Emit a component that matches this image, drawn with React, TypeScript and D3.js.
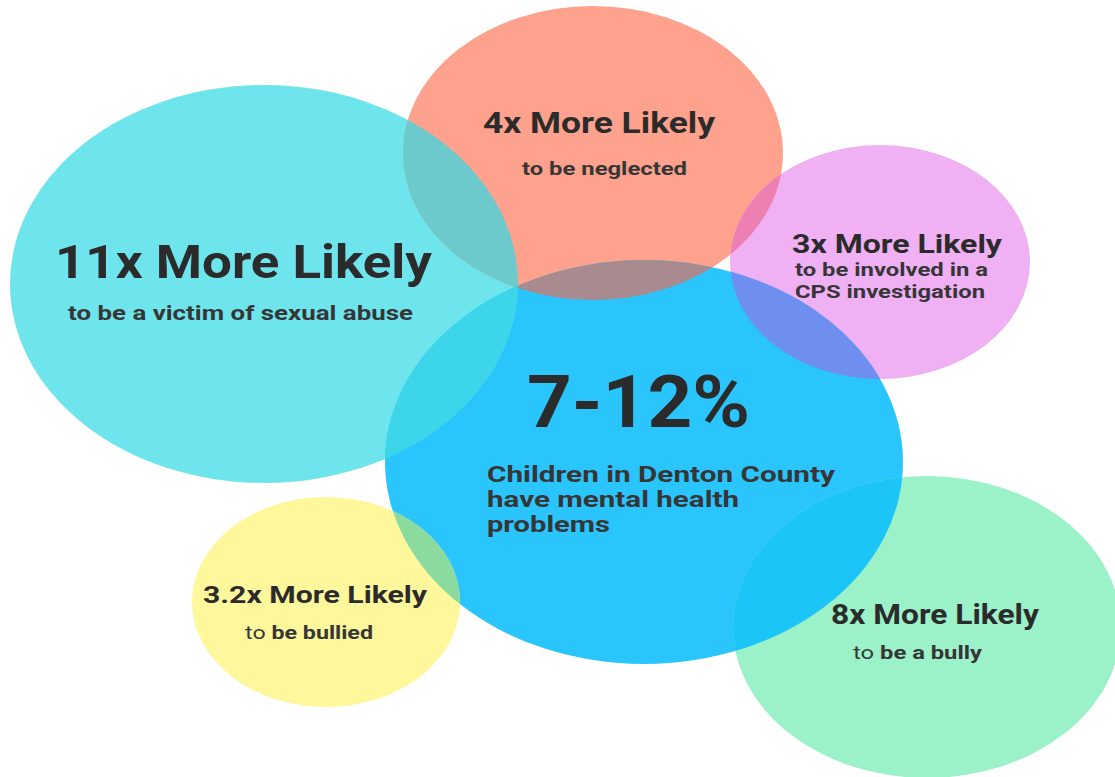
import React from "react";
import * as d3 from "d3";

// ---- Data (text content of each bubble) ----
const bubbleKeys = ["abuse", "neglect", "cps", "main", "bullied", "bully"];
const headlines = ["11x More Likely", "4x More Likely", "3x More Likely", "7-12%", "3.2x More Likely", "8x More Likely"];
const subtitles: string[][] = [
  ["to be a victim of sexual abuse"],
  ["to be neglected"],
  ["to be involved in a", "CPS investigation"],
  ["Children in Denton County", "have mental health", "problems"],
  ["to be bullied"],
  ["to be a bully"],
];
const overlapPairs: [string, string][] = [
  ["abuse", "neglect"],
  ["neglect", "main"],
  ["abuse", "main"],
  ["neglect", "cps"],
  ["cps", "main"],
  ["bullied", "main"],
  ["bully", "main"],
];

// ---- Layout / style (separate from data) ----
const shapes: Record<string, { cx: number; cy: number; rx: number; ry: number }> = {
  abuse: { cx: 264, cy: 284, rx: 254, ry: 199 },
  neglect: { cx: 593, cy: 153, rx: 190, ry: 147 },
  cps: { cx: 880, cy: 262, rx: 150, ry: 117 },
  main: { cx: 644, cy: 462, rx: 259, ry: 202 },
  bullied: { cx: 326, cy: 602, rx: 134, ry: 105 },
  bully: { cx: 927, cy: 627, rx: 194, ry: 151 },
};
const baseColor = d3
  .scaleOrdinal<string, string>()
  .domain(bubbleKeys)
  .range(["#6ee4ec", "#fea18d", "#efb0f4", "#2bc5fe", "#fff79b", "#9bf1c8"]);
const overlapColor: Record<string, string> = {
  "abuse|neglect": "#6ccacd",
  "neglect|main": "#a98b8f",
  "abuse|main": "#3dd5ea",
  "neglect|cps": "#ee7fb2",
  "cps|main": "#6e8ef0",
  "bullied|main": "#8bdb9e",
  "bully|main": "#1bc5f7",
};
type TextLayout = {
  head: { x: number; y: number; size: number; w: number };
  sub: { x: number; y: number; size: number; w: number }[];
  lightTo?: boolean;
};
const textLayout: Record<string, TextLayout> = {
  abuse: {
    head: { x: 55, y: 278, size: 47, w: 377 },
    sub: [{ x: 68, y: 320, size: 19.5, w: 345 }],
  },
  neglect: {
    head: { x: 483, y: 133, size: 30, w: 232 },
    sub: [{ x: 522, y: 175, size: 18.5, w: 165 }],
  },
  cps: {
    head: { x: 792, y: 253, size: 26, w: 210 },
    sub: [
      { x: 795, y: 276, size: 18, w: 193 },
      { x: 795, y: 298, size: 18, w: 190 },
    ],
  },
  main: {
    head: { x: 527, y: 427, size: 73, w: 223 },
    sub: [
      { x: 487, y: 482, size: 22, w: 348 },
      { x: 487, y: 507, size: 22, w: 252 },
      { x: 487, y: 532, size: 22, w: 123 },
    ],
  },
  bullied: {
    head: { x: 203, y: 603, size: 24, w: 224 },
    sub: [{ x: 245, y: 639, size: 18.5, w: 128 }],
    lightTo: true,
  },
  bully: {
    head: { x: 831, y: 624, size: 27, w: 208 },
    sub: [{ x: 853, y: 659, size: 18.5, w: 129 }],
    lightTo: true,
  },
};

const W = 1115;
const H = 777;
const FONT = "Roboto, 'Noto Sans', sans-serif";

export default function App() {
  const ell = (k: string) => shapes[k];
  return (
    <svg
      width={W}
      height={H}
      viewBox={`0 0 ${W} ${H}`}
      style={{ position: "absolute", left: 0, top: 0, background: "#fff" }}
    >
      <defs>
        {bubbleKeys.map((k) => {
          const e = ell(k);
          return (
            <clipPath id={`clip-${k}`} key={k}>
              <ellipse cx={e.cx} cy={e.cy} rx={e.rx} ry={e.ry} />
            </clipPath>
          );
        })}
      </defs>
      <rect x={0} y={0} width={W} height={H} fill="#fff" />
      {bubbleKeys.map((k) => {
        const e = ell(k);
        return <ellipse key={k} cx={e.cx} cy={e.cy} rx={e.rx} ry={e.ry} fill={baseColor(k)} />;
      })}
      {overlapPairs.map(([a, b]) => {
        const e = ell(b);
        return (
          <g key={`${a}-${b}`} clipPath={`url(#clip-${a})`}>
            <ellipse cx={e.cx} cy={e.cy} rx={e.rx} ry={e.ry} fill={overlapColor[`${a}|${b}`]} />
          </g>
        );
      })}
      {bubbleKeys.map((k, i) => {
        const t = textLayout[k];
        return (
          <g key={`t-${k}`} fontFamily={FONT} fontWeight={700}>
            <text
              x={t.head.x}
              y={t.head.y}
              fontSize={t.head.size}
              fill="#2b2b2b"
              textLength={t.head.w}
              lengthAdjust="spacingAndGlyphs"
            >
              {headlines[i]}
            </text>
            {subtitles[i].map((s, j) => {
              const l = t.sub[j];
              const light = t.lightTo && s.startsWith("to ");
              return (
                <text
                  key={j}
                  x={l.x}
                  y={l.y}
                  fontSize={l.size}
                  fill="#363636"
                  textLength={l.w}
                  lengthAdjust="spacingAndGlyphs"
                >
                  {light ? (
                    <>
                      <tspan fontWeight={400}>to</tspan>
                      <tspan>{s.slice(2)}</tspan>
                    </>
                  ) : (
                    s
                  )}
                </text>
              );
            })}
          </g>
        );
      })}
    </svg>
  );
}
